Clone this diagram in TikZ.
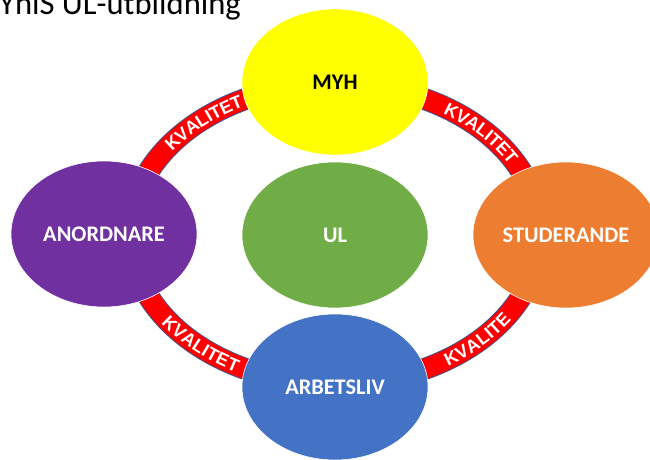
\documentclass[tikz,border=0pt]{standalone}
\usepackage{fontspec}
\setmainfont{Carlito}
\newfontfamily\bandfont{Liberation Sans}
\usetikzlibrary{shapes.geometric,decorations.text}
\definecolor{myhyellow}{HTML}{FFFF00}
\definecolor{anpurple}{HTML}{7030A0}
\definecolor{ulgreen}{HTML}{70AD47}
\definecolor{stuorange}{HTML}{ED7D31}
\definecolor{arbblue}{HTML}{4472C4}
\definecolor{bandred}{HTML}{FF0000}
\definecolor{bandedge}{HTML}{46528A}
\tikzset{%
	party/.style    = {ellipse, draw=white, line width=0.6pt, minimum width=186pt, minimum height=146pt, inner sep=0pt, text centered, font=\fontsize{22.3}{23}\selectfont\bfseries},
	band/.style     = {line width=22pt, draw=bandedge},
	bandfill/.style = {line width=20pt, draw=bandred},
	bandtext/.style = {decorate, decoration={text along path, text align=center, raise=-6.5pt, text={|\bandfont\bfseries\fontsize{18}{18}\selectfont\color{white}|#1}}},
}
\begin{document}
\begin{tikzpicture}[x=1pt,y=1pt]
	\useasboundingbox (0,0) rectangle (650,459);
	\clip (0,0) rectangle (650,459);
	
	\node[anchor=base west, inner sep=0pt, font=\fontsize{32.6}{33}\selectfont] (title) at (-1,444) {YhiS UL-utbildning};
	
	% ring with quality labels
	\coordinate (ring) at (335,225);
	\draw[band] (ring) ellipse [x radius=205, y radius=150];
	\draw[bandfill] (ring) ellipse [x radius=205, y radius=150];
	\path[bandtext=KVALITET] ([shift={(174:205 and 150)}]ring) arc[start angle=174, end angle=94, x radius=205, y radius=150];
	\path[bandtext=KVALITET] ([shift={(80:205 and 150)}]ring) arc[start angle=80, end angle=0, x radius=205, y radius=150];
	\path[bandtext=KVALITET] ([shift={(185:205 and 150)}]ring) arc[start angle=185, end angle=265, x radius=205, y radius=150];
	\path[bandtext=KVALITE] ([shift={(278:205 and 150)}]ring) arc[start angle=278, end angle=358, x radius=205, y radius=150];
	
	\node[party, fill=myhyellow, text=black] (myh) at (335,377) {MYH};
	\node[party, fill=anpurple, text=white] (anordnare) at (104,225) {ANORDNARE};
	\node[party, fill=ulgreen, text=white] (ul) at (335,224) {UL};
	\node[party, fill=stuorange, text=white] (studerande) at (566,224) {STUDERANDE};
	\node[party, fill=arbblue, text=white] (arbetsliv) at (335,72) {ARBETSLIV};
	
\end{tikzpicture}
\end{document}
